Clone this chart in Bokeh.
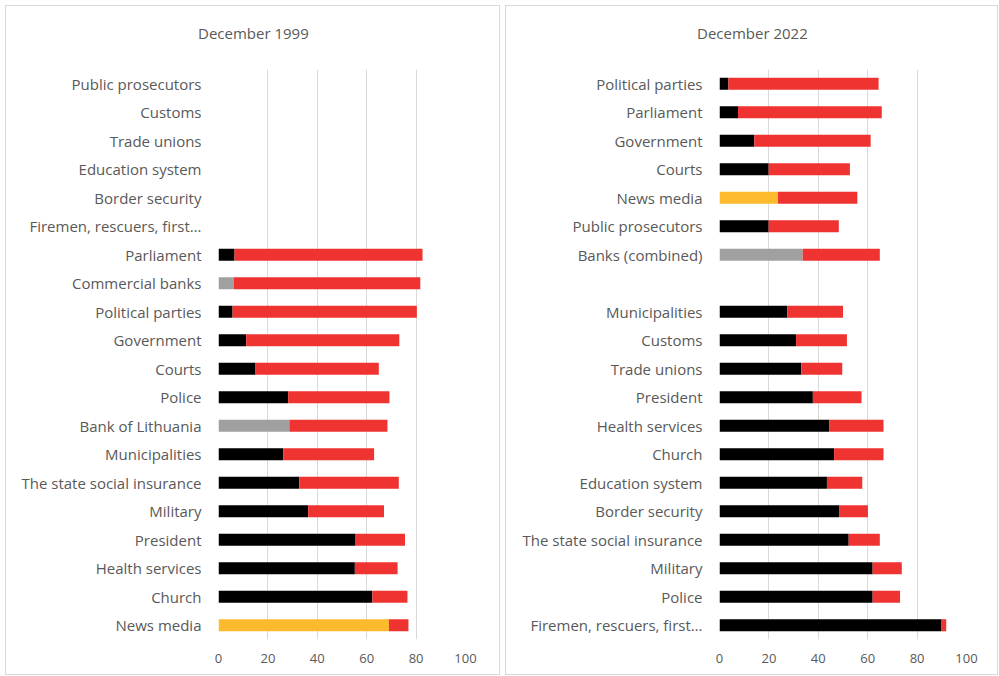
from bokeh.plotting import figure
from bokeh.layouts import row, column, Spacer
from bokeh.models import ColumnDataSource, FactorRange, Range1d, FixedTicker, Title
from bokeh.embed import file_html
from bokeh.resources import INLINE

# ---------------- data ----------------
left_title = "December 1999"
left_categories = ["Public prosecutors", "Customs", "Trade unions", "Education system",
                   "Border security", "Firemen, rescuers, first\u2026", "Parliament",
                   "Commercial banks", "Political parties", "Government", "Courts", "Police",
                   "Bank of Lithuania", "Municipalities", "The state social insurance",
                   "Military", "President", "Health services", "Church", "News media"]
left_trust = [None, None, None, None, None, None, 6.5, 6.2, 5.7, 11.2, 15.0, 28.2,
              28.7, 26.2, 32.7, 36.3, 55.5, 55.2, 62.3, 69.0]
left_distrust = [None, None, None, None, None, None, 76.1, 75.5, 74.6, 62.0, 49.9, 41.0,
                 39.7, 36.8, 40.3, 30.7, 20.0, 17.3, 14.2, 7.9]

right_title = "December 2022"
right_categories = ["Political parties", "Parliament", "Government", "Courts", "News media",
                    "Public prosecutors", "Banks (combined)", " ", "Municipalities", "Customs",
                    "Trade unions", "President", "Health services", "Church",
                    "Education system", "Border security", "The state social insurance",
                    "Military", "Police", "Firemen, rescuers, first\u2026"]
right_trust = [3.6, 7.5, 14.1, 19.9, 23.7, 19.9, 33.7, None, 27.4, 31.0, 33.1, 37.8,
               44.5, 46.4, 43.5, 48.4, 52.3, 62.0, 62.0, 89.9]
right_distrust = [60.8, 58.2, 47.1, 32.9, 32.1, 28.4, 31.2, None, 22.6, 20.6, 16.6, 19.7,
                  21.9, 20.0, 14.3, 11.7, 12.6, 11.8, 11.1, 1.9]

x_ticks = [0, 20, 40, 60, 80, 100]

# ---------------- style ----------------
BLACK = "#000000"
RED = "#EF3330"
YELLOW = "#FDBA2C"
GREY = "#A0A0A0"
TEXT = "#595959"
GRID = "#D9D9D9"
FONT = "Open Sans"

HEIGHT = 670
B_BOTTOM = 37


def first_color(name):
    if name == "News media":
        return YELLOW
    if "bank" in name.lower():
        return GREY
    return BLACK


def make_panel(title, cats, trust, distrust, width, border_left, border_right):
    p = figure(width=width, height=HEIGHT, output_backend="svg", toolbar_location=None,
               y_range=FactorRange(factors=list(reversed(cats)), range_padding=0),
               x_range=Range1d(0, 100),
               min_border_left=border_left, min_border_right=border_right,
               min_border_top=0, min_border_bottom=B_BOTTOM,
               title=title, styles={"border": "1px solid #D9D9D9"})
    rows = [(c, t, d) for c, t, d in zip(cats, trust, distrust) if t is not None]
    src = ColumnDataSource(dict(
        y=[r[0] for r in rows],
        t=[r[1] for r in rows],
        tot=[r[1] + r[2] for r in rows],
        zero=[0] * len(rows),
        col=[first_color(r[0]) for r in rows],
    ))
    p.hbar(y="y", left="zero", right="t", height=0.42, fill_color="col",
           line_color=None, source=src)
    p.hbar(y="y", left="t", right="tot", height=0.42, fill_color=RED,
           line_color=None, source=src)

    # title centred over the whole panel
    p.title.align = "left"
    p.title.offset = (width / 2.0 - border_left) - 56
    p.title.vertical_align = "middle"
    p.title.standoff = 30
    p.title.text_font = FONT
    p.title.text_font_size = "15px"
    p.title.text_font_style = "normal"
    p.title.text_color = TEXT
    # small empty gap between the title and the plotting area
    p.add_layout(Title(text=" ", text_font_size="1px", standoff=8), "above")

    p.outline_line_color = None
    p.ygrid.grid_line_color = None
    p.xgrid.grid_line_color = GRID
    p.xaxis.ticker = FixedTicker(ticks=x_ticks)
    for ax in (p.xaxis, p.yaxis):
        ax.axis_line_color = None
        ax.major_tick_line_color = None
        ax.minor_tick_line_color = None
        ax.major_label_text_color = TEXT
        ax.major_label_text_font = FONT
    p.xaxis.major_label_text_font_size = "13px"
    p.xaxis.major_label_standoff = 8
    p.yaxis.major_label_text_font_size = "15px"
    p.yaxis.major_label_standoff = 11
    return p


left = make_panel(left_title, left_categories, left_trust, left_distrust, 495, 212, 36)
right = make_panel(right_title, right_categories, right_trust, right_distrust, 493, 213, 33)

layout = column(Spacer(height=5),
                row(Spacer(width=5), left, Spacer(width=5), right))
open("out.html", "w").write(file_html(layout, INLINE))
